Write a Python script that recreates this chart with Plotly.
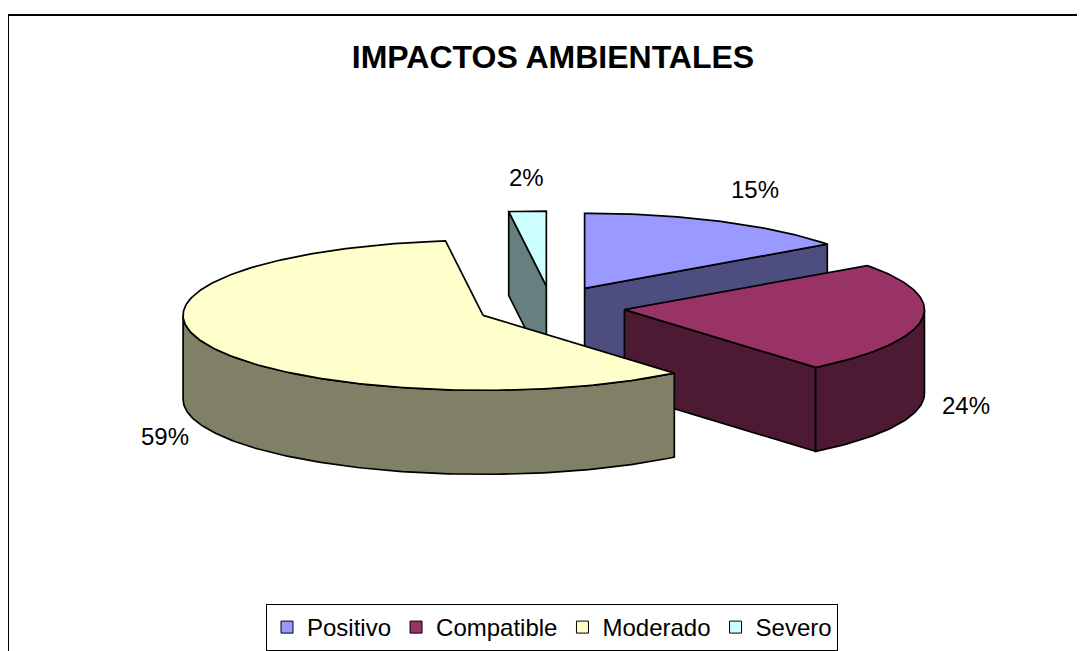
import math
import plotly.graph_objects as go

# ---- data ----
categories = ["Positivo", "Compatible", "Moderado", "Severo"]
values = [15, 24, 59, 2]
top_colors = ["#9999FF", "#993366", "#FFFFCC", "#CCFFFF"]
side_colors = ["#4D4D80", "#4D1A33", "#808066", "#668080"]
title_text = "IMPACTOS AMBIENTALES"

# ---- pseudo-3D geometry (screen pixel space) ----
W, H = 1085, 651
OFF = 8  # page body margin
CX, CY = 551, 307
RX, RY = 300, 75
DEPTH = 84
EX, EY = 74, 21
FONT = "Liberation Sans, Arial, sans-serif"

def px(x):
    return (x - OFF) / W

def py(y):
    return 1 - (y - OFF) / H

def s(a):
    return math.sin(math.radians(a))

def c(a):
    return math.cos(math.radians(a))

total = sum(values)
slices = []
acc = 0.0
for i, v in enumerate(values):
    a = acc / total * 360.0
    acc += v
    b = acc / total * 360.0
    mid = (a + b) / 2
    ax = CX + EX * s(mid)
    ay = CY - EY * c(mid)
    slices.append(dict(i=i, a=a, b=b, mid=mid, ax=ax, ay=ay))

def pt(sl, ang, z=0.0):
    return sl["ax"] + RX * s(ang), sl["ay"] - RY * c(ang) + z

def arc(sl, a0, a1, z=0.0, n=None):
    if n is None:
        n = max(2, int(abs(a1 - a0) / 1.0) + 1)
    return [pt(sl, a0 + (a1 - a0) * k / (n - 1), z) for k in range(n)]

fig = go.Figure()

def poly(points, fill):
    xs = [p[0] for p in points] + [points[0][0]]
    ys = [p[1] for p in points] + [points[0][1]]
    fig.add_trace(go.Scatter(
        x=xs, y=ys, mode="lines", fill="toself", fillcolor=fill,
        line=dict(color="black", width=1.7), hoverinfo="skip", showlegend=False))

# draw back-most slices first
for sl in sorted(slices, key=lambda d: d["ay"]):
    i, a, b = sl["i"], sl["a"], sl["b"]
    apex_t = (sl["ax"], sl["ay"])
    apex_b = (sl["ax"], sl["ay"] + DEPTH)
    if 180 < a % 360 < 360:
        pa, pab = pt(sl, a), pt(sl, a, DEPTH)
        poly([apex_t, pa, pab, apex_b], side_colors[i])
    if 0 < b % 360 < 180:
        pb, pbb = pt(sl, b), pt(sl, b, DEPTH)
        poly([apex_t, pb, pbb, apex_b], side_colors[i])
    lo, hi = max(a, 90), min(b, 270)
    if hi > lo:
        top = arc(sl, lo, hi)
        bot = arc(sl, hi, lo, DEPTH)
        poly(top + bot, side_colors[i])
    poly([apex_t] + arc(sl, a, b), top_colors[i])

# data labels
annotations = []
for sl in slices:
    i, m = sl["i"], sl["mid"]
    ex, ey = pt(sl, m, DEPTH if c(m) < 0 else 0)
    lx = ex + 18 * s(m)
    ly = ey - 18 * c(m)
    xa = "left" if s(m) > 0.3 else ("right" if s(m) < -0.3 else "center")
    ya = "bottom" if c(m) > 0.5 else ("top" if c(m) < -0.5 else "middle")
    annotations.append(dict(
        x=lx, y=ly, xref="x", yref="y", text=f"{values[i]}%", showarrow=False,
        xanchor=xa, yanchor=ya, font=dict(family=FONT, size=24, color="black")))

# legend entries
for i, name in enumerate(categories):
    fig.add_trace(go.Scatter(
        x=[None], y=[None], mode="markers", name=name,
        marker=dict(symbol="square", size=12, color=top_colors[i],
                    line=dict(color="black", width=1))))

fig.update_layout(
    width=W, height=H,
    margin=dict(l=0, r=0, t=0, b=0),
    paper_bgcolor="white", plot_bgcolor="white",
    xaxis=dict(range=[OFF, W + OFF], visible=False, fixedrange=True),
    yaxis=dict(range=[H + OFF, OFF], visible=False, fixedrange=True),
    title=dict(text=f"<b>{title_text}</b>", x=px(553), xanchor="center",
               y=py(57), yanchor="middle",
               font=dict(family=FONT, size=32, color="black")),
    annotations=annotations,
    showlegend=True,
    legend=dict(orientation="h", x=px(552), xanchor="center",
                y=py(604), yanchor="top",
                bordercolor="black", borderwidth=1, bgcolor="white",
                font=dict(family=FONT, size=24, color="black"),
                itemwidth=30, traceorder="normal"),
    shapes=[dict(type="rect", xref="paper", yref="paper",
                 x0=px(8), y0=py(15), x1=1.05, y1=-0.05,
                 line=dict(color="black", width=2), layer="below")],
)

fig.write_html("out.html")
